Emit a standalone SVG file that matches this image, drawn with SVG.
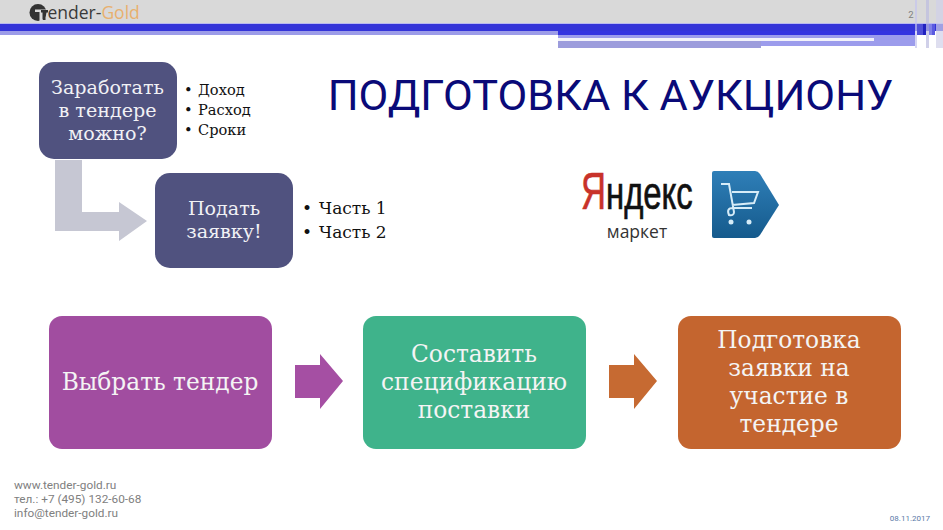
<svg xmlns="http://www.w3.org/2000/svg" width="943" height="530" viewBox="0 0 943 530">
<defs>
<linearGradient id="tag" x1="0" y1="0" x2="0" y2="1"><stop offset="0" stop-color="#2f7fb8"/><stop offset="1" stop-color="#155a8c"/></linearGradient>
</defs>
<style>
text{font-family:"DejaVu Serif","Liberation Serif",serif}
.n{font-size:19.100px;fill:#f1f1f5;text-anchor:middle}
.b{font-size:23.300px;fill:#f4f4f4;text-anchor:middle}
.l{font-size:14.600px;fill:#111}
.m{font-size:17px;fill:#111}
.s{font-family:Roboto,"Liberation Sans",sans-serif;font-size:11.800px;fill:#808080}
</style>
<g id="header">
<rect x="0" y="0" width="943" height="24" fill="#d9d9d9"/>
<rect x="0" y="23" width="943" height="2" fill="#b9b9f0"/>
<rect x="0" y="24" width="943" height="7" fill="#3434d8"/>
<rect x="0" y="31" width="558" height="4" fill="#9c9ce8"/>
<rect x="558" y="31" width="357" height="4" fill="#3434e0"/>
<rect x="558" y="35" width="357" height="13" fill="#9c9cec"/>
<rect x="558" y="38" width="316" height="3" fill="#f2f2fa"/>
<rect x="558" y="41" width="203" height="7" fill="#9c9cdc"/>
<rect x="761" y="46" width="154" height="2" fill="#ffffff"/>
<rect x="915" y="0" width="2" height="48" fill="#c4c4ee" opacity=".7"/>
<rect x="917" y="24" width="6" height="11" fill="#5050d8"/>
<rect x="923" y="24" width="3" height="11" fill="#2222c0"/>
<rect x="926" y="0" width="3" height="48" fill="#bcbce0" opacity=".7"/>
<rect x="929" y="24" width="3" height="11" fill="#8080e8"/>
<rect x="932" y="24" width="3" height="11" fill="#5a5ae0"/>
<rect x="936" y="0" width="7" height="48" fill="#d0d0e8" opacity=".7"/>
<circle cx="38" cy="12.500" r="8.500" fill="#333"/>
<path d="M35 9.500H47V12H42.500V21H39.500V12H35Z" fill="#d9d9d9"/>
<rect x="41" y="10" width="7" height="2.500" fill="#333"/>
<rect x="43" y="10" width="2.500" height="10" fill="#333"/>
<text x="47.500" y="19" style="font-family:'Open Sans',sans-serif;font-size:17.500px" fill="#3a3a3a">ender-<tspan fill="#e8b06e">Gold</tspan></text>
<text x="911" y="18" style="font-family:Roboto,sans-serif;font-size:9.500px" text-anchor="middle" fill="#808080">2</text>
</g>
<text x="610.500" y="110" text-anchor="middle" style="font-family:Roboto,sans-serif;font-size:43.300px" fill="#0a0a78">ПОДГОТОВКА К АУКЦИОНУ</text>
<g id="connectors">
<path d="M55 160H82V212H119V202L147 221L119 241V231H55Z" fill="#c6c7d3"/>
<path d="M295 365H320V354L343 381L320 409V398H295Z" fill="#a54fa3"/>
<path d="M609 365H634V354L657 381L634 409V398H609Z" fill="#c66a32"/>
</g>
<g id="node-earn">
<rect x="39" y="62" width="138" height="97" rx="15" fill="#50527f"/>
<text class="n" x="107.500" y="94">Заработать</text>
<text class="n" x="107.500" y="117">в тендере</text>
<text class="n" x="107.500" y="140">можно?</text>
</g>
<g id="list-earn">
<text class="l" x="184" y="95">•</text><text class="l" x="198" y="95">Доход</text>
<text class="l" x="184" y="115">•</text><text class="l" x="198" y="115">Расход</text>
<text class="l" x="184" y="135">•</text><text class="l" x="198" y="135">Сроки</text>
</g>
<g id="node-apply">
<rect x="155" y="173" width="138" height="95" rx="15" fill="#50527f"/>
<text class="n" x="224" y="215">Подать</text>
<text class="n" x="224" y="238">заявку!</text>
</g>
<g id="list-apply">
<text class="m" x="302" y="214">•</text><text class="m" x="319" y="214">Часть 1</text>
<text class="m" x="302" y="238">•</text><text class="m" x="319" y="238">Часть 2</text>
</g>
<g id="node-choose">
<rect x="49" y="316" width="223" height="133" rx="13" fill="#a14da0"/>
<text class="b" x="160" y="390">Выбрать тендер</text>
</g>
<g id="node-spec">
<rect x="363" y="316" width="223" height="133" rx="13" fill="#3fb38b"/>
<text class="b" x="474" y="362">Составить</text>
<text class="b" x="474" y="390">спецификацию</text>
<text class="b" x="474" y="418">поставки</text>
</g>
<g id="node-prepare">
<rect x="678" y="316" width="223" height="133" rx="13" fill="#c4652f"/>
<text class="b" x="789" y="348">Подготовка</text>
<text class="b" x="789" y="376">заявки на</text>
<text class="b" x="789" y="404">участие в</text>
<text class="b" x="789" y="432">тендере</text>
</g>
<g id="yandex-market">
<text transform="translate(581 209) scale(.68 1)" style="font-family:'Liberation Sans',sans-serif;font-size:51px" stroke="#c8322a" stroke-width=".6" fill="#c8322a">Я</text>
<text transform="translate(606 209) scale(.715 1)" style="font-family:'Liberation Sans',sans-serif;font-size:46px" stroke="#111" stroke-width=".7" fill="#111">ндекс</text>
<text x="637" y="238" text-anchor="middle" style="font-family:'Open Sans',sans-serif;font-size:17.500px" fill="#333">маркет</text>
<path d="M714 171H755Q758 171 760 174L779 205L760 235Q758 238 755 238H714Q712 238 712 236V173Q712 171 714 171Z" fill="url(#tag)"/>
<path d="M721 184H729L734 212Q734 216 729 215Q726 208 733 208H752M732 192H758L754 203L732 205" fill="none" stroke="#d6ecf8" stroke-width="2"/>
<circle cx="731" cy="222" r="2.500" fill="#d6ecf8"/>
<circle cx="749" cy="222" r="2.500" fill="#d6ecf8"/>
</g>
<g id="footer">
<text class="s" x="14" y="489">www.tender-gold.ru</text>
<text class="s" x="14" y="503">тел.: +7 (495) 132-60-68</text>
<text class="s" x="14" y="517">info@tender-gold.ru</text>
<text x="930" y="521" text-anchor="end" style="font-family:Roboto,sans-serif;font-size:8px" fill="#5a7aa8">08.11.2017</text>
</g>
</svg>
